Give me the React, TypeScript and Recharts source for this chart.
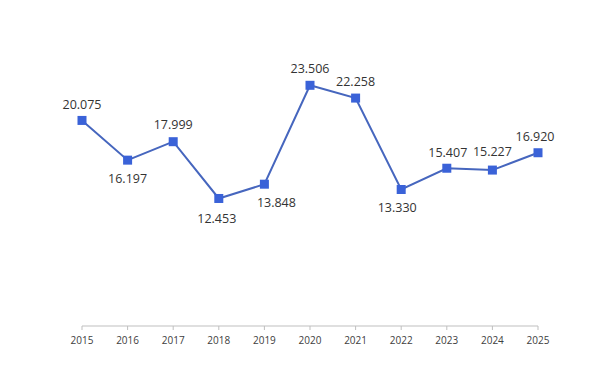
import React from 'react';
import { LineChart, Line, XAxis, YAxis, LabelList } from 'recharts';

const years = ['2015', '2016', '2017', '2018', '2019', '2020', '2021', '2022', '2023', '2024', '2025'];
const values = [20.075, 16.197, 17.999, 12.453, 13.848, 23.506, 22.258, 13.33, 15.407, 15.227, 16.92];

const labelOffsets: [number, number][] = [
  [0, -16], [0, 18], [0, -17], [-2, 20], [12, 18], [0, -17], [0, -17], [-4, 18], [1, -16], [0, -19], [-3, -16],
];

const data = years.map((y, i) => ({ year: y, value: values[i] }));

const SquareDot = (props: any) => {
  const { cx, cy, index } = props;
  if (cx == null || cy == null) return null;
  return <rect key={`d${index}`} x={cx - 4.5} y={cy - 4.5} width={9} height={9} fill="#3a62d8" />;
};

const ValueLabel = (props: any) => {
  const { x, y, value, index } = props;
  const [dx, dy] = labelOffsets[index] || [0, -16];
  return (
    <text
      x={x + dx}
      y={y + dy}
      textAnchor="middle"
      dominantBaseline="central"
      fontFamily="'Open Sans', sans-serif"
      fontSize={12.5}
      fill="#333333"
    >
      {Number(value).toFixed(3)}
    </text>
  );
};

export default function App() {
  return (
    <div style={{ position: 'absolute', left: 0, top: 0, width: 605, height: 371, background: '#fff' }}>
      <LineChart width={605} height={371} data={data} margin={{ top: 70, right: 67, bottom: 15, left: 82 }}>
        <XAxis
          dataKey="year"
          height={30}
          axisLine={{ stroke: '#bfbfbf', strokeWidth: 1 }}
          tickLine={{ stroke: '#bfbfbf', strokeWidth: 1 }}
          tickSize={4}
          tickMargin={7}
          interval={0}
          tick={{ fontFamily: "'Open Sans', sans-serif", fontSize: 10, fill: '#404040' }}
        />
        <YAxis hide domain={[0, 25]} type="number" />
        <Line
          type="linear"
          dataKey="value"
          stroke="#4666be"
          strokeWidth={2}
          dot={<SquareDot />}
          activeDot={false}
          isAnimationActive={false}
        >
          <LabelList dataKey="value" content={<ValueLabel />} />
        </Line>
      </LineChart>
    </div>
  );
}
